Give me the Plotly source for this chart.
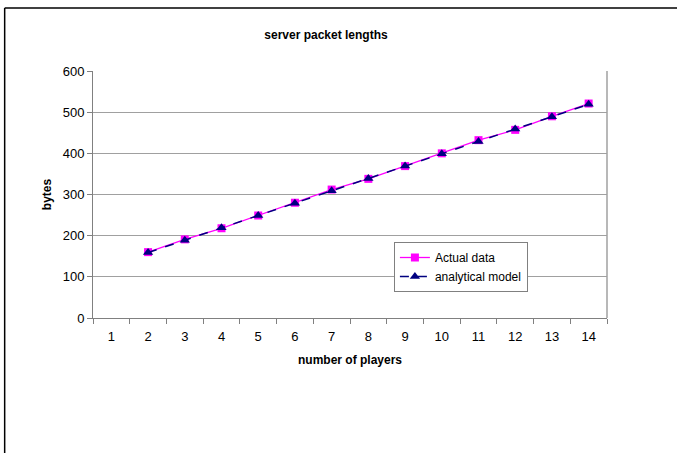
import plotly.graph_objects as go

categories = [str(i) for i in range(1, 15)]
players = ["2", "3", "4", "5", "6", "7", "8", "9", "10", "11", "12", "13", "14"]
actual_data = [160, 191, 218, 249, 280, 312, 338, 369, 400, 432, 457, 490, 521]
analytical_model = [159, 189, 219, 249, 279, 309, 339, 369, 399, 429, 459, 489, 519]
y_ticks = [0, 100, 200, 300, 400, 500, 600]

W, H = 677, 453
L, R, T, B = 92.5, 607.5, 71, 318

FONT = "Liberation Sans, Arial, sans-serif"

fig = go.Figure()
fig.add_trace(go.Scatter(
    x=players, y=actual_data, name="Actual data", mode="lines+markers",
    line=dict(color="#FF00FF", width=1.3),
    marker=dict(symbol="square", size=8, color="#FF00FF"),
))
fig.add_trace(go.Scatter(
    x=players, y=analytical_model, name="analytical model", mode="lines+markers",
    line=dict(color="#000080", width=1.5, dash="dash"),
    marker=dict(symbol="triangle-up", size=9, color="#000080"),
))

def px(x):
    return (x - L) / (R - L)

def py(y):
    return (B - y) / (B - T)

shapes = [
    dict(type="line", xref="paper", yref="paper", x0=px(4), x1=px(4), y0=py(8), y1=py(460),
         line=dict(color="black", width=1.5)),
    dict(type="line", xref="paper", yref="paper", x0=px(4), x1=px(690), y0=py(8), y1=py(8),
         line=dict(color="black", width=1.5)),
    dict(type="line", xref="paper", yref="paper", x0=1, x1=1, y0=0, y1=1,
         line=dict(color="#A0A0A0", width=1.5)),
]

fig.update_layout(
    width=W, height=H,
    margin=dict(l=L, r=W - R, t=T, b=H - B, pad=0),
    paper_bgcolor="white", plot_bgcolor="white",
    font=dict(family=FONT, size=13, color="black"),
    title=dict(text="<b>server packet lengths</b>", xref="container", yref="container",
               x=326 / W, xanchor="center", y=1 - 35 / H, yanchor="middle",
               font=dict(size=12, family=FONT)),
    showlegend=True,
    legend=dict(x=px(394), y=py(242), xanchor="left", yanchor="top",
                bgcolor="white", bordercolor="#808080", borderwidth=1,
                font=dict(size=12, family=FONT), tracegroupgap=0,
                itemwidth=30),
    shapes=shapes,
)

fig.update_xaxes(
    type="category", categoryorder="array", categoryarray=categories,
    range=[-0.5, 13.5], tickson="boundaries", ticks="outside", ticklen=5,
    tickcolor="#808080", showline=True, linecolor="#808080", linewidth=1,
    showgrid=False, zeroline=False, ticklabelstandoff=6,
    tickfont=dict(size=13, family=FONT),
    title=dict(text="<b>number of players</b>", font=dict(size=12, family=FONT), standoff=13),
)
fig.update_yaxes(
    range=[0, 600], tickvals=y_ticks, ticks="outside", ticklen=5,
    tickcolor="#808080", showline=True, linecolor="#808080", linewidth=1,
    showgrid=True, gridcolor="#A0A0A0", gridwidth=1, zeroline=False,
    tickfont=dict(size=13, family=FONT),
    title=dict(text="<b>bytes</b>", font=dict(size=12, family=FONT), standoff=8),
)

fig.write_html("out.html", config={"displayModeBar": False},
               post_script="document.body.style.margin='0';document.body.style.padding='0';")
